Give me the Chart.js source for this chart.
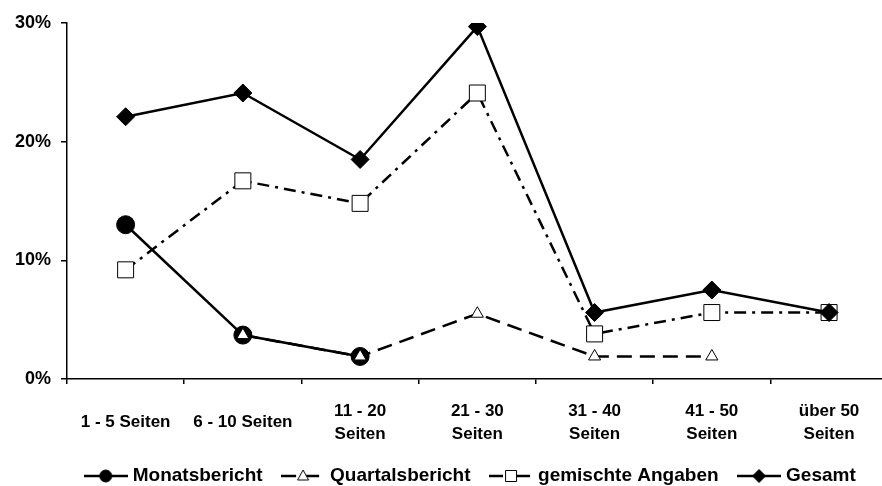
<!DOCTYPE html>
<html>
<head>
<meta charset="utf-8">
<script src="https://cdn.jsdelivr.net/npm/chart.js@4/dist/chart.umd.min.js"></script>
<style>
  html, body { margin: 0; padding: 0; background: #fff; overflow: hidden; }
  #wrap { width: 882px; height: 486px; overflow: hidden; position: relative; }
  canvas { display: block; }
</style>
</head>
<body>
<div id="wrap"><canvas id="c" width="900" height="486"></canvas></div>
<script>
// ---- data ----
const categories = [
  '1 - 5 Seiten',
  '6 - 10 Seiten',
  ['11 - 20', 'Seiten'],
  ['21 - 30', 'Seiten'],
  ['31 - 40', 'Seiten'],
  ['41 - 50', 'Seiten'],
  ['über 50', 'Seiten']
];
const seriesNames = ['Monatsbericht', 'Quartalsbericht', 'gemischte Angaben', 'Gesamt'];
const monatsbericht   = [13.0, 3.7, 1.9, null, null, null, null];
const quartalsbericht = [null, 3.7, 1.9, 5.5, 1.9, 1.9, null];
const gemischte       = [9.2, 16.7, 14.8, 24.1, 3.8, 5.6, 5.6];
const gesamt          = [22.1, 24.1, 18.5, 29.7, 5.6, 7.5, 5.6];
const yTickValues = [0, 10, 20, 30];

const FONT = "'Liberation Sans', Arial, Helvetica, sans-serif";

// legend key images (line + marker)
function legendKey(style, dash) {
  const c = document.createElement('canvas');
  c.width = 44; c.height = 22;
  const x = c.getContext('2d');
  x.strokeStyle = '#000';
  x.lineWidth = 2.5;
  x.setLineDash(dash || []);
  x.beginPath(); x.moveTo(0, 11); x.lineTo(44, 11); x.stroke();
  x.setLineDash([]);
  x.lineWidth = 1;
  x.beginPath();
  const cx = 22, cy = 11;
  if (style === 'circle') {
    x.arc(cx, cy, 6, 0, Math.PI * 2);
    x.fillStyle = '#000'; x.fill(); x.stroke();
  } else if (style === 'triangle') {
    x.moveTo(cx, cy - 6); x.lineTo(cx + 5.5, cy + 4); x.lineTo(cx - 5.5, cy + 4); x.closePath();
    x.fillStyle = '#fff'; x.fill(); x.stroke();
  } else if (style === 'rect') {
    x.rect(cx - 5.5, cy - 5.5, 11, 11);
    x.fillStyle = '#fff'; x.fill(); x.stroke();
  } else if (style === 'rectRot') {
    x.moveTo(cx, cy - 6.5); x.lineTo(cx + 6.5, cy); x.lineTo(cx, cy + 6.5); x.lineTo(cx - 6.5, cy); x.closePath();
    x.fillStyle = '#000'; x.fill(); x.stroke();
  }
  return c;
}

const dashQ = [15, 8];
const dashG = [12, 6, 3, 6];
const keyImgs = [
  legendKey('circle'),
  legendKey('triangle', dashQ),
  legendKey('rect', [14, 5, 3, 5]),
  legendKey('rectRot')
];

const datasets = [
  { label: seriesNames[0], data: monatsbericht, order: 4,
    borderColor: '#000', borderWidth: 2.5, backgroundColor: '#000',
    pointStyle: 'circle', pointRadius: 9, pointBackgroundColor: '#000', pointBorderColor: '#000', pointBorderWidth: 1 },
  { label: seriesNames[1], data: quartalsbericht, order: 3,
    borderColor: '#000', borderWidth: 2.5, borderDash: dashQ, backgroundColor: '#fff',
    pointStyle: 'triangle', pointRadius: 7, pointBackgroundColor: '#fff', pointBorderColor: '#000', pointBorderWidth: 1 },
  { label: seriesNames[2], data: gemischte, order: 2,
    borderColor: '#000', borderWidth: 2.5, borderDash: dashG, backgroundColor: '#fff',
    pointStyle: 'rect', pointRadius: 11.3, pointBackgroundColor: '#fff', pointBorderColor: '#000', pointBorderWidth: 1 },
  { label: seriesNames[3], data: gesamt, order: 1,
    borderColor: '#000', borderWidth: 2.5, backgroundColor: '#000',
    pointStyle: 'rectRot', pointRadius: 9, pointBackgroundColor: '#000', pointBorderColor: '#000', pointBorderWidth: 1 }
];

// shift the legend's horizontal span so it is centred like the original
const legendShift = {
  id: 'legendShift',
  afterLayout(chart) {
    if (chart.legend) { chart.legend.left = 51; }
  }
};

new Chart(document.getElementById('c'), {
  type: 'line',
  data: { labels: categories, datasets: datasets },
  plugins: [legendShift],
  options: {
    responsive: false,
    animation: false,
    devicePixelRatio: 1,
    events: [],
    spanGaps: false,
    layout: { padding: { left: 0, right: 7, top: 23, bottom: -9.5 } },
    elements: { line: { tension: 0, fill: false } },
    plugins: {
      tooltip: { enabled: false },
      title: { display: false },
      legend: {
        position: 'bottom',
        align: 'center',
        labels: {
          usePointStyle: true,
          pointStyleWidth: 35,
          padding: 23,
          color: '#000',
          font: { family: FONT, size: 19, weight: 'bold' },
          generateLabels: (chart) => chart.data.datasets.map((ds, i) => ({
            text: ds.label,
            pointStyle: keyImgs[i],
            fillStyle: '#000',
            strokeStyle: '#000',
            lineWidth: 0,
            hidden: false,
            datasetIndex: i,
            fontColor: '#000'
          }))
        }
      }
    },
    scales: {
      x: {
        type: 'category',
        offset: true,
        border: { display: true, color: '#000', width: 1.5 },
        grid: { display: true, offset: true, drawOnChartArea: false, drawTicks: true, tickLength: 5, color: '#000', lineWidth: 1.5 },
        ticks: {
          color: '#000',
          padding: 27,
          autoSkip: false,
          maxRotation: 0,
          minRotation: 0,
          crossAlign: 'center',
          font: { family: FONT, size: 17, weight: 'bold', lineHeight: '23px' }
        },
        afterFit: (s) => { s.height = 64.5; }
      },
      y: {
        min: 0,
        max: 30,
        border: { display: true, color: '#000', width: 1.5 },
        grid: { display: true, drawOnChartArea: false, drawTicks: true, tickLength: 6, color: '#000', lineWidth: 1.5 },
        afterBuildTicks: (s) => { s.ticks = yTickValues.map(v => ({ value: v })); },
        ticks: {
          color: '#000',
          padding: 10,
          callback: (v) => v + '%',
          font: { family: FONT, size: 18, weight: 'bold' }
        },
        afterFit: (s) => { s.width = 67; }
      }
    }
  }
});
</script>
</body>
</html>
